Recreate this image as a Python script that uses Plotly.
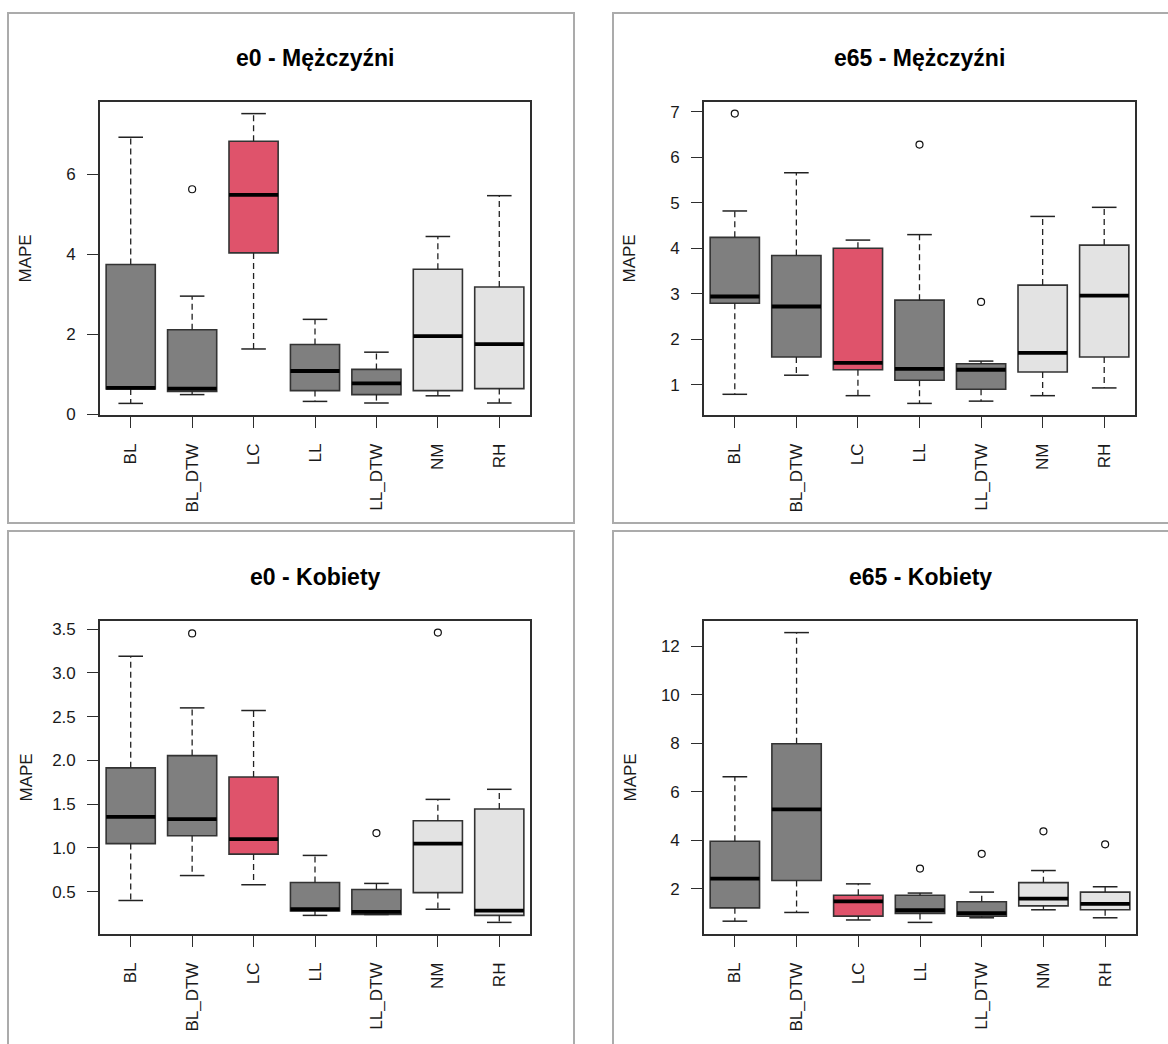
import plotly.graph_objects as go

# ---------------------------------------------------------------- data
CATEGORIES = ["BL", "BL_DTW", "LC", "LL", "LL_DTW", "NM", "RH"]

# e0 - Mężczyźni
E0_M_LOW = [0.27, 0.49, 1.63, 0.32, 0.28, 0.46, 0.28]
E0_M_Q1 = [0.63, 0.57, 4.03, 0.59, 0.49, 0.59, 0.64]
E0_M_MED = [0.66, 0.64, 5.48, 1.08, 0.77, 1.95, 1.75]
E0_M_Q3 = [3.74, 2.11, 6.82, 1.74, 1.12, 3.62, 3.18]
E0_M_HIGH = [6.92, 2.95, 7.51, 2.37, 1.55, 4.44, 5.46]
E0_M_OUT = [[], [5.62], [], [], [], [], []]

# e65 - Mężczyźni
E65_M_LOW = [0.79, 1.21, 0.76, 0.59, 0.64, 0.76, 0.93]
E65_M_Q1 = [2.79, 1.61, 1.33, 1.10, 0.90, 1.28, 1.61]
E65_M_MED = [2.94, 2.72, 1.48, 1.35, 1.33, 1.70, 2.96]
E65_M_Q3 = [4.24, 3.84, 4.00, 2.86, 1.46, 3.19, 4.07]
E65_M_HIGH = [4.82, 5.66, 4.18, 4.30, 1.52, 4.70, 4.90]
E65_M_OUT = [[6.96], [], [], [6.28], [2.82], [], []]

# e0 - Kobiety
E0_K_LOW = [0.40, 0.685, 0.58, 0.23, 0.24, 0.30, 0.15]
E0_K_Q1 = [1.05, 1.14, 0.93, 0.28, 0.24, 0.49, 0.23]
E0_K_MED = [1.355, 1.33, 1.10, 0.30, 0.27, 1.05, 0.285]
E0_K_Q3 = [1.915, 2.055, 1.81, 0.605, 0.525, 1.31, 1.445]
E0_K_HIGH = [3.19, 2.60, 2.57, 0.915, 0.595, 1.555, 1.67]
E0_K_OUT = [[], [3.45], [], [], [1.17], [3.46], []]

# e65 - Kobiety
E65_K_LOW = [0.66, 1.02, 0.71, 0.61, 0.80, 1.13, 0.80]
E65_K_Q1 = [1.21, 2.34, 0.87, 0.98, 0.87, 1.29, 1.13]
E65_K_MED = [2.42, 5.27, 1.48, 1.11, 0.99, 1.59, 1.37]
E65_K_Q3 = [3.96, 7.98, 1.73, 1.73, 1.46, 2.25, 1.86]
E65_K_HIGH = [6.62, 12.57, 2.20, 1.82, 1.86, 2.75, 2.08]
E65_K_OUT = [[], [], [], [2.83], [3.44], [4.37], [3.83]]

# ---------------------------------------------------------------- styling
W, H = 1168, 1044
FONT = "Liberation Sans, Arial, sans-serif"
BOX_FILLS = ["#7F7F7F", "#7F7F7F", "#DF536B", "#7F7F7F", "#7F7F7F", "#E3E3E3", "#E3E3E3"]
BOX_LINE = "#333333"
AXIS_COLOR = "#2E2E2E"
TEXT_COLOR = "#1A1A1A"
FRAME_COLOR = "#ABABAB"
BOX_WIDTH = 0.8
STAPLE_HALF = BOX_WIDTH / 4

# title, stats, plot rectangle (x0, x1, y0, y1) and outer frame, in pixels
PANELS = [
    dict(title="e0 - Mężczyźni",
         stats=(E0_M_LOW, E0_M_Q1, E0_M_MED, E0_M_Q3, E0_M_HIGH, E0_M_OUT),
         ticks=[0, 2, 4, 6], fmt="d",
         plot=(100, 530, 102, 418), frame=(8, 574, 12, 527)),
    dict(title="e65 - Mężczyźni",
         stats=(E65_M_LOW, E65_M_Q1, E65_M_MED, E65_M_Q3, E65_M_HIGH, E65_M_OUT),
         ticks=[1, 2, 3, 4, 5, 6, 7], fmt="d",
         plot=(704, 1135, 102, 418), frame=(613, 1185, 12, 527)),
    dict(title="e0 - Kobiety",
         stats=(E0_K_LOW, E0_K_Q1, E0_K_MED, E0_K_Q3, E0_K_HIGH, E0_K_OUT),
         ticks=[0.5, 1.0, 1.5, 2.0, 2.5, 3.0, 3.5], fmt=".1f",
         plot=(100, 530, 626, 942), frame=(8, 574, 535, 1060)),
    dict(title="e65 - Kobiety",
         stats=(E65_K_LOW, E65_K_Q1, E65_K_MED, E65_K_Q3, E65_K_HIGH, E65_K_OUT),
         ticks=[2, 4, 6, 8, 10, 12], fmt="d",
         plot=(704, 1136, 626, 942), frame=(613, 1185, 535, 1060)),
]


def px_x(x):
    return x / W


def px_y(y):
    return 1 - y / H


fig = go.Figure()
shapes = []
annotations = []
positions = list(range(1, len(CATEGORIES) + 1))

for k, panel in enumerate(PANELS, start=1):
    low, q1, med, q3, high, outs = panel["stats"]
    xa = "x" if k == 1 else f"x{k}"
    ya = "y" if k == 1 else f"y{k}"

    # boxes (body only, whiskers are drawn dashed below)
    for i, pos in enumerate(positions):
        fig.add_trace(go.Box(
            x=[pos], q1=[q1[i]], median=[med[i]], q3=[q3[i]],
            lowerfence=[q1[i]], upperfence=[q3[i]],
            width=BOX_WIDTH, fillcolor=BOX_FILLS[i],
            line=dict(color=BOX_LINE, width=1.6),
            boxpoints=False, hoverinfo="skip", showlegend=False,
            xaxis=xa, yaxis=ya,
        ))

    # dashed whiskers
    wx, wy = [], []
    for i, pos in enumerate(positions):
        wx += [pos, pos, None, pos, pos, None]
        wy += [q3[i], high[i], None, q1[i], low[i], None]
    fig.add_trace(go.Scatter(
        x=wx, y=wy, mode="lines", xaxis=xa, yaxis=ya,
        line=dict(color="#222222", width=1.3, dash="6px,4px"),
        hoverinfo="skip", showlegend=False,
    ))

    # staples
    sx, sy = [], []
    for i, pos in enumerate(positions):
        for v in (high[i], low[i]):
            sx += [pos - STAPLE_HALF, pos + STAPLE_HALF, None]
            sy += [v, v, None]
    fig.add_trace(go.Scatter(
        x=sx, y=sy, mode="lines", xaxis=xa, yaxis=ya,
        line=dict(color="#222222", width=1.5),
        hoverinfo="skip", showlegend=False,
    ))

    # thick medians
    mx, my = [], []
    for i, pos in enumerate(positions):
        mx += [pos - BOX_WIDTH / 2, pos + BOX_WIDTH / 2, None]
        my += [med[i], med[i], None]
    fig.add_trace(go.Scatter(
        x=mx, y=my, mode="lines", xaxis=xa, yaxis=ya,
        line=dict(color="#000000", width=3.8),
        hoverinfo="skip", showlegend=False,
    ))

    # outliers
    ox, oy = [], []
    for i, pos in enumerate(positions):
        for v in outs[i]:
            ox.append(pos)
            oy.append(v)
    fig.add_trace(go.Scatter(
        x=ox, y=oy, mode="markers", xaxis=xa, yaxis=ya,
        marker=dict(symbol="circle-open", size=7, color="#111111",
                    line=dict(width=1.2)),
        hoverinfo="skip", showlegend=False,
    ))

    # value range with 4% padding on each side
    every = low + high + [v for o in outs for v in o]
    lo, hi = min(every), max(every)
    pad = 0.04 * (hi - lo)

    x0, x1, y0, y1 = panel["plot"]
    axis_common = dict(
        showline=True, mirror=True, linecolor=AXIS_COLOR, linewidth=1.6,
        ticks="outside", ticklen=11, tickwidth=1.3, tickcolor=AXIS_COLOR,
        showgrid=False, zeroline=False,
        tickfont=dict(family=FONT, size=17, color=TEXT_COLOR),
    )
    fig.layout[f"xaxis{'' if k == 1 else k}"] = dict(
        axis_common, domain=[px_x(x0), px_x(x1)], anchor=ya,
        range=[0.5, len(CATEGORIES) + 0.5],
        tickmode="array", tickvals=positions, ticktext=CATEGORIES,
        tickangle=-90, ticklabelstandoff=9,
    )
    fig.layout[f"yaxis{'' if k == 1 else k}"] = dict(
        axis_common, domain=[px_y(y1), px_y(y0)], anchor=xa,
        range=[lo - pad, hi + pad],
        tickmode="array", tickvals=panel["ticks"], tickformat=panel["fmt"],
        ticklabelstandoff=8,
    )

    fx0, fx1, fy0, fy1 = panel["frame"]
    shapes.append(dict(
        type="rect", xref="paper", yref="paper", layer="below",
        x0=px_x(fx0), x1=px_x(fx1), y0=px_y(fy1), y1=px_y(fy0),
        line=dict(color=FRAME_COLOR, width=2), fillcolor="rgba(0,0,0,0)",
    ))

    annotations.append(dict(
        text=f"<b>{panel['title']}</b>", xref="paper", yref="paper",
        x=px_x((x0 + x1) / 2), y=px_y(y0 - 44), xanchor="center", yanchor="middle",
        showarrow=False, font=dict(family=FONT, size=23, color="#000000"),
    ))
    annotations.append(dict(
        text="MAPE", xref="paper", yref="paper", textangle=-90,
        x=px_x(x0 - 74), y=px_y((y0 + y1) / 2), xanchor="center", yanchor="middle",
        showarrow=False, font=dict(family=FONT, size=17, color=TEXT_COLOR),
    ))

fig.update_layout(
    width=W, height=H,
    margin=dict(l=0, r=0, t=0, b=0),
    paper_bgcolor="white", plot_bgcolor="white",
    boxmode="overlay", showlegend=False,
    shapes=shapes, annotations=annotations,
)

fig.write_html("out.html")
